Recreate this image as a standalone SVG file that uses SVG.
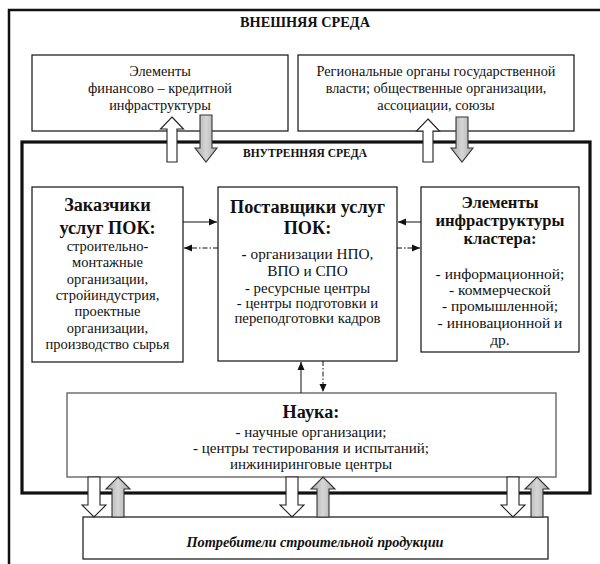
<svg xmlns="http://www.w3.org/2000/svg" width="600" height="564" viewBox="0 0 600 564" font-family="'Liberation Serif', 'DejaVu Serif', serif">
  <style>
    text { font-family: 'Liberation Serif', 'DejaVu Serif', serif; fill: #111; text-anchor: middle; }
    .t14 { font-size: 14.3px; }
    .tl { font-size: 14.5px; }
    .tc { font-size: 14.8px; }
    .tc2 { font-size: 15.3px; }
    .tr { font-size: 15.5px; }
    .ts { font-size: 15px; }
    .hd { font-size: 18.2px; font-weight: bold; }
    .hdr { font-size: 16.6px; font-weight: bold; }
    .cap { font-weight: bold; }
    .box { fill: #fff; stroke: #111; stroke-width: 1.2; }
    .box-grey { fill: #fff; stroke: #666; stroke-width: 1.4; }
    .blk-w { fill: #fff; stroke: #222; stroke-width: 1.1; stroke-linejoin: miter; }
    .blk-g { fill: url(#greyFill); stroke: #333; stroke-width: 1.1; stroke-linejoin: miter; }
    .link { fill: none; stroke: #111; stroke-width: 1; }
    .dashdot { stroke-dasharray: 5 2 1.5 2; }
  </style>
  <defs>
    <linearGradient id="greyFill" x1="0" y1="0" x2="1" y2="0">
      <stop offset="0" stop-color="#a8a8a8"/>
      <stop offset="0.5" stop-color="#d6d6d6"/>
      <stop offset="1" stop-color="#a8a8a8"/>
    </linearGradient>
    <marker id="tip" markerUnits="userSpaceOnUse" markerWidth="9" markerHeight="8" refX="8" refY="4" orient="auto">
      <path d="M0,0.5 L8,4 L0,7.5 Z" fill="#111"/>
    </marker>
  </defs>

  <!-- outer environment frame -->
  <g id="external-env">
    <rect x="9" y="10" width="620" height="600" fill="none" stroke="#111" stroke-width="2.5"/>
    <text x="305" y="27" class="cap" font-size="14.3">ВНЕШНЯЯ СРЕДА</text>
  </g>

  <!-- inner environment frame -->
  <g id="internal-env">
    <rect x="22" y="142" width="568" height="351" fill="none" stroke="#111" stroke-width="3.2"/>
    <text x="305" y="157" class="cap" font-size="11.5">ВНУТРЕННЯЯ СРЕДА</text>
  </g>

  <g id="finance-infra">
    <rect class="box" x="32" y="55" width="256" height="76"/>
    <text class="t14" x="160" y="76">Элементы</text>
    <text class="t14" x="160" y="93">финансово – кредитной</text>
    <text class="t14" x="160" y="110">инфраструктуры</text>
  </g>

  <g id="regional-bodies">
    <rect class="box" x="298" y="55" width="276" height="76"/>
    <text class="t14" x="436" y="76">Региональные органы государственной</text>
    <text class="t14" x="436" y="93">власти; общественные организации,</text>
    <text class="t14" x="436" y="110">ассоциации, союзы</text>
  </g>

  <g id="customers">
    <rect class="box" x="32" y="187" width="151" height="175"/>
    <text class="hd" x="107.5" y="211">Заказчики</text>
    <text class="hd" x="107.5" y="234" font-size="19.5">услуг ПОК:</text>
    <text class="tl" x="107.5" y="251">строительно-</text>
    <text class="tl" x="107.5" y="267">монтажные</text>
    <text class="tl" x="107.5" y="284">организации,</text>
    <text class="tl" x="107.5" y="300">стройиндустрия,</text>
    <text class="tl" x="107.5" y="316">проектные</text>
    <text class="tl" x="107.5" y="333">организации,</text>
    <text class="tl" x="107.5" y="349">производство сырья</text>
  </g>

  <g id="providers">
    <rect class="box" x="218" y="187" width="179" height="174"/>
    <text class="hd" x="307.5" y="213">Поставщики услуг</text>
    <text class="hd" x="307.5" y="234">ПОК:</text>
    <text class="tc2" x="307.5" y="259"><tspan font-weight="bold">-</tspan> организации НПО,</text>
    <text class="tc2" x="307.5" y="276">ВПО и СПО</text>
    <text class="tc" x="307.5" y="293">- ресурсные центры</text>
    <text class="tc" x="307.5" y="308">- центры подготовки и</text>
    <text class="tc" x="307.5" y="323">переподготовки кадров</text>
  </g>

  <g id="cluster-infra">
    <rect class="box" x="421" y="187" width="158" height="165"/>
    <text class="hdr" x="500" y="208">Элементы</text>
    <text class="hdr" x="500" y="226">инфраструктуры</text>
    <text class="hdr" x="500" y="244">кластера:</text>
    <text class="tr" x="500" y="279">- информационной;</text>
    <text class="tr" x="500" y="295">- коммерческой</text>
    <text class="tr" x="500" y="311">- промышленной;</text>
    <text class="tr" x="500" y="328">- инновационной и</text>
    <text class="tr" x="500" y="345">др.</text>
  </g>

  <g id="science">
    <rect class="box-grey" x="67" y="393" width="489" height="84"/>
    <text class="hd" x="311" y="418" font-size="17.5">Наука:</text>
    <text class="ts" x="311" y="437">- научные организации;</text>
    <text class="ts" x="311" y="453">- центры тестирования и испытаний;</text>
    <text class="ts" x="311" y="469">инжиниринговые центры</text>
  </g>

  <g id="consumers">
    <rect class="box" x="83" y="517" width="465" height="42"/>
    <text x="315" y="547" font-size="14.3" font-weight="bold" font-style="italic">Потребители строительной продукции</text>
  </g>

  <g id="connectors">
    <!-- thin links between the inner nodes -->
    <line class="link" x1="183" y1="222" x2="217" y2="222" marker-end="url(#tip)"/>
    <line class="link dashdot" x1="218" y1="248" x2="184" y2="248" marker-end="url(#tip)"/>
    <line class="link" x1="421" y1="222" x2="398" y2="222" marker-end="url(#tip)"/>
    <line class="link dashdot" x1="397" y1="248" x2="420" y2="248" marker-end="url(#tip)"/>
    <line class="link" x1="301" y1="393" x2="301" y2="362" marker-end="url(#tip)"/>
    <line class="link dashdot" x1="323" y1="361" x2="323" y2="392" marker-end="url(#tip)"/>

    <!-- block arrows: external bodies ↔ inner environment -->
    <polygon class="blk-w" points="172,117 183.5,129 177,129 177,162 167,162 167,129 160.5,129"/>
    <polygon class="blk-g" points="200,115 212,115 212,148 217,148 206,162 195,148 200,148"/>
    <polygon class="blk-w" points="428,119 439.5,131 433,131 433,162 423,162 423,131 416.5,131"/>
    <polygon class="blk-g" points="456,117 468,117 468,148 473,148 462,162 451,148 456,148"/>

    <!-- block arrows: science ↔ consumers -->
    <polygon class="blk-w" points="88,477 100,477 100,505 106,505 94,517 82,505 88,505"/>
    <polygon class="blk-g" points="118,477 130,489 124,489 124,517 112,517 112,489 106,489"/>
    <polygon class="blk-w" points="286,477 298,477 298,505 304,505 292,517 280,505 286,505"/>
    <polygon class="blk-g" points="323,477 335,489 329,489 329,517 317,517 317,489 311,489"/>
    <polygon class="blk-w" points="507,477 519,477 519,505 525,505 513,517 501,505 507,505"/>
    <polygon class="blk-g" points="537,477 549,489 543,489 543,517 531,517 531,489 525,489"/>
  </g>
</svg>
